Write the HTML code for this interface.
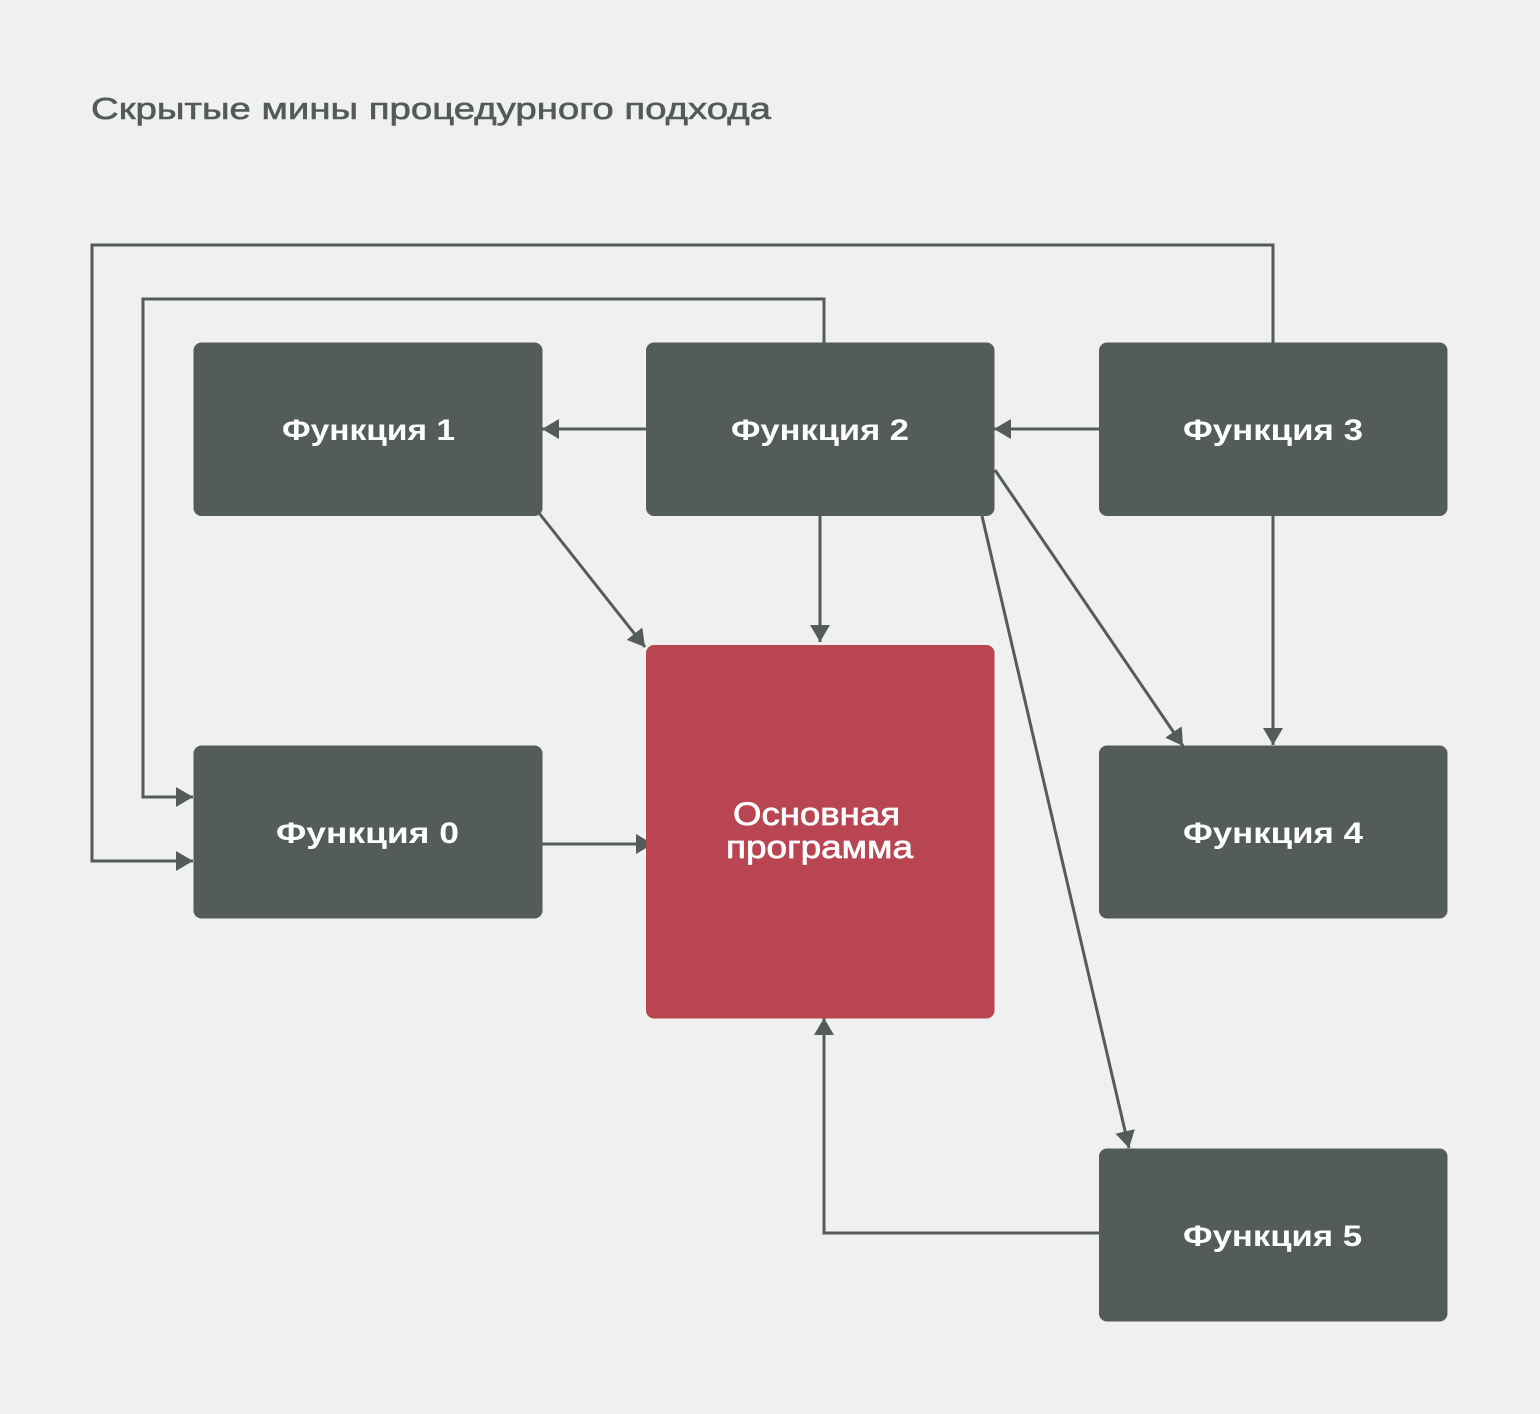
<!DOCTYPE html>
<html><head><meta charset="utf-8"><style>
html,body{margin:0;padding:0;background:#f0f0f0;}
svg{display:block;}
</style></head><body>
<svg width="1540" height="1414" viewBox="0 0 1540 1414" xmlns="http://www.w3.org/2000/svg">
<defs>
<marker id="ah" viewBox="0 0 17 20" refX="17" refY="10" markerWidth="17" markerHeight="20" markerUnits="userSpaceOnUse" orient="auto">
<path d="M0,0 L17,10 L0,20 Z" fill="#535c59"/>
</marker>
</defs>
<rect width="1540" height="1414" fill="#f0f0f0"/>
<text x="91" y="119" font-family="Liberation Sans, sans-serif" font-size="31" fill="#535b58" stroke="#535b58" stroke-width="0.6" textLength="680" lengthAdjust="spacingAndGlyphs">Скрытые мины процедурного подхода</text>

<g fill="none" stroke="#535c59" stroke-width="3">
<polyline points="1273,343 1273,245 92,245 92,861 193,861" marker-end="url(#ah)"/>
<polyline points="824,343 824,299 143,299 143,797 193,797" marker-end="url(#ah)"/>
<line x1="646" y1="429" x2="542" y2="429" marker-end="url(#ah)"/>
<line x1="1099" y1="429" x2="994" y2="429" marker-end="url(#ah)"/>
<line x1="539" y1="513" x2="645" y2="647" marker-end="url(#ah)"/>
<line x1="820" y1="516" x2="820" y2="642" marker-end="url(#ah)"/>
<line x1="995" y1="470" x2="1183" y2="746" marker-end="url(#ah)"/>
<line x1="982" y1="516" x2="1129" y2="1148" marker-end="url(#ah)"/>
<line x1="1273" y1="516" x2="1273" y2="745" marker-end="url(#ah)"/>
<polyline points="1099,1233 824,1233 824,1018" marker-end="url(#ah)"/>
<line x1="542" y1="844" x2="653" y2="844" marker-end="url(#ah)"/>
</g>

<g fill="#535c59">
<rect x="193.5" y="342.5" width="349" height="173.5" rx="8"/>
<rect x="646" y="342.5" width="348.5" height="173.5" rx="8"/>
<rect x="1099" y="342.5" width="348.5" height="173.5" rx="8"/>
<rect x="193.5" y="745.5" width="349" height="173" rx="8"/>
<rect x="1099" y="745.5" width="348.5" height="173" rx="8"/>
<rect x="1099" y="1148.5" width="348.5" height="173" rx="8"/>
</g>
<rect x="646" y="645" width="348.5" height="373.5" rx="8" fill="#b94552"/>

<g font-family="Liberation Sans, sans-serif" font-weight="bold" font-size="30" fill="#ffffff">
<text x="282" y="440" textLength="173" lengthAdjust="spacingAndGlyphs">Функция 1</text>
<text x="731" y="440" textLength="178" lengthAdjust="spacingAndGlyphs">Функция 2</text>
<text x="1183" y="440" textLength="180" lengthAdjust="spacingAndGlyphs">Функция 3</text>
<text x="276" y="843" textLength="183" lengthAdjust="spacingAndGlyphs">Функция 0</text>
<text x="1183" y="843" textLength="180" lengthAdjust="spacingAndGlyphs">Функция 4</text>
<text x="1183" y="1246" textLength="179" lengthAdjust="spacingAndGlyphs">Функция 5</text>
</g>
<g font-family="Liberation Sans, sans-serif" font-size="32" fill="#ffffff" stroke="#ffffff" stroke-width="0.7">
<text x="733" y="825" textLength="167" lengthAdjust="spacingAndGlyphs">Основная</text>
<text x="726" y="858" textLength="187" lengthAdjust="spacingAndGlyphs">программа</text>
</g>
</svg>
</body></html>
